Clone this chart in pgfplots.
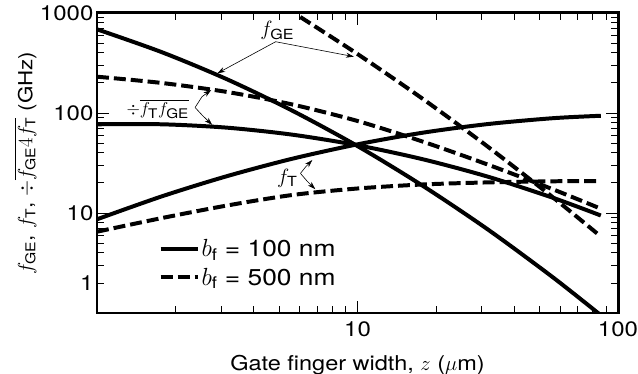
\documentclass[border=0pt]{standalone}
\usepackage{amsmath}
\usepackage{fontspec}
\setmainfont{TeX Gyre Heros}[FakeStretch=1.15]
\usepackage{pgfplots}
\pgfplotsset{compat=1.18}
\usetikzlibrary{arrows.meta}
\begin{document}
\begin{tikzpicture}
\begin{loglogaxis}[
  scale only axis, width=521bp, height=300bp,
  xmin=1, xmax=100, ymin=1, ymax=1000,
  xtick={10,100}, xticklabels={10,100},
  ytick={10,100,1000}, yticklabels={10,100,1000},
  extra y ticks={2}, extra y tick labels={1},
  extra y tick style={major tick length=7pt},
  minor xtick={2,3,4,5,6,7,8,9,20,30,40,50,60,70,80,90},
  minor ytick={3,4,5,6,7,8,9,20,30,40,50,60,70,80,90,200,300,400,500,600,700,800,900},
  major tick length=12pt, minor tick length=7pt,
  tick style={line width=0.8pt, black},
  axis line style={line width=3pt},
  tick align=inside,
  ticklabel style={font=\fontsize{21}{24}\selectfont},
  xticklabel style={yshift=-5bp},
  xlabel={Gate finger width, $z$ ($\mu$m)},
  ylabel={$f_{\text{GE}}$, $f_{\text{T}}$, $\div\overline{f_{\text{GE}}4f_{\text{T}}}$ (GHz)},
  xlabel style={font=\fontsize{20.5}{24}\selectfont, at={(axis description cs:0.5,-0.172)}, anchor=center},
  ylabel style={font=\fontsize{19.5}{24}\selectfont, at={(axis description cs:-0.138,0.5)}, anchor=center},
  legend image code/.code={\draw[#1] (0bp,0bp) -- (37bp,0bp);},
  legend style={at={(axis description cs:0.118,0.253)}, anchor=north west, draw=none, fill=none,
    inner sep=0pt, row sep=6bp, font=\fontsize{23}{26}\selectfont,
    nodes={inner sep=2bp, font=\fontsize{23}{26}\selectfont}},
  legend cell align=left,
  every axis plot/.append style={line width=4pt, black},
]
% f_GE, b_f = 100 nm
\addplot[smooth, forget plot] coordinates {(1,687) (1.778,404.6) (3.162,216.8) (5.623,105.4) (10,46.7) (17.78,18.75) (31.62,6.855) (56.23,2.275) (85.9,0.95)};
% f_GE, b_f = 500 nm
\addplot[smooth, forget plot, dash pattern=on 12pt off 5pt] coordinates {(6.03,912) (10,389) (17.78,138.8) (31.62,46.1) (56.23,14.35) (85.9,5.82)};
% sqrt(fT fGE), 100 nm
\addplot[smooth, forget plot] coordinates {(1,77.1) (1.778,77.1) (3.162,71.3) (5.623,60.7) (10,47.6) (17.78,34.5) (31.62,23.1) (56.23,14.2) (85.9,9.44)};
% sqrt(fT fGE), 500 nm
\addplot[smooth, forget plot, dash pattern=on 12pt off 5pt] coordinates {(1,230.7) (1.778,199.5) (3.162,162.2) (5.623,121.6) (10,83.2) (17.78,51.8) (31.62,30.5) (56.23,17.26) (85.9,11.04)};
% f_T, 100 nm
\addplot[smooth, forget plot] coordinates {(1,8.65) (1.778,14.7) (3.162,23.4) (5.623,34.9) (10,48.6) (17.78,63.5) (31.62,77.5) (56.23,88.7) (85.9,93.8)};
% f_T, 500 nm
\addplot[smooth, forget plot, dash pattern=on 12pt off 5pt] coordinates {(1,6.5) (1.778,8.91) (3.162,11.89) (5.623,15.14) (10,17.58) (17.78,19.28) (31.62,20.23) (56.23,20.75) (85.9,20.89)};
\addlegendimage{line width=4pt, black}
\addlegendentry{$b_{\text{f}}$ = 100 nm}
\addlegendimage{line width=4pt, black, dash pattern=on 12pt off 5pt}
\addlegendentry{$b_{\text{f}}$ = 500 nm}
% annotations
\node[font=\fontsize{20}{24}\selectfont] at (axis cs:4.92,665) {$f_{\text{GE}}$};
\draw[line width=0.6pt, -{Stealth[length=8pt,width=5pt]}] (axis cs:4.85,516) -- (axis cs:2.894,249);
\draw[line width=0.6pt, -{Stealth[length=8pt,width=5pt]}] (axis cs:4.85,516) -- (axis cs:9.69,366);
\node[font=\fontsize{19}{24}\selectfont] at (axis cs:1.71,109.6) {$\div\overline{f_{\text{T}}f_{\text{GE}}}$};
\draw[line width=0.6pt, -{Stealth[length=8pt,width=5pt]}] (axis cs:2.38,113.5) -- (axis cs:2.53,145.6) -- (axis cs:2.745,170);
\draw[line width=0.6pt, -{Stealth[length=8pt,width=5pt]}] (axis cs:2.38,113.5) -- (axis cs:2.53,95.5) -- (axis cs:2.77,75.9);
\node[font=\fontsize{20}{24}\selectfont] at (axis cs:5.38,22.2) {$f_{\text{T}}$};
\draw[line width=0.6pt, -{Stealth[length=8pt,width=5pt]}] (axis cs:6.04,24.9) -- (axis cs:6.33,29.0) -- (axis cs:6.71,33.9);
\draw[line width=0.6pt, -{Stealth[length=8pt,width=5pt]}] (axis cs:6.04,24.9) -- (axis cs:6.43,20.6) -- (axis cs:6.89,17.3);
\end{loglogaxis}
\pgfresetboundingbox
\useasboundingbox (-97bp,-61bp) rectangle (541bp,313bp);
\end{tikzpicture}
\end{document}
